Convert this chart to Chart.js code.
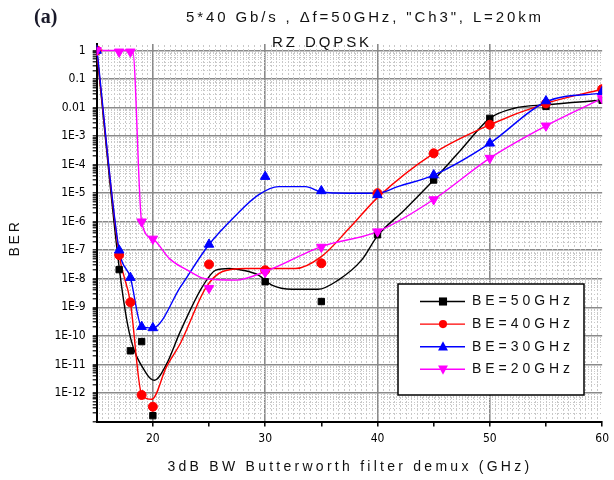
<!DOCTYPE html>
<html><head><meta charset="utf-8">
<script src="https://cdn.jsdelivr.net/npm/chart.js"></script>
<style>html,body{margin:0;padding:0;background:#fff}canvas{display:block}</style>
</head><body>
<canvas id="c" width="614" height="480"></canvas>
<script>
// ---------- data ----------
const seriesLabels = ['BE=50GHz', 'BE=40GHz', 'BE=30GHz', 'BE=20GHz'];

// measured points (markers)
const be50X = [15, 17, 18, 19, 20, 30, 35, 40, 45, 50, 55, 60];
const be50BER = [1, 2.1e-8, 3e-11, 6.3e-11, 1.6e-13, 7.9e-9, 1.6e-9, 3.5e-7, 2.9e-5, 4.2e-3, 1.1e-2, 1.8e-2];
const be40X = [15, 17, 18, 19, 20, 25, 30, 35, 40, 45, 50, 55, 60];
const be40BER = [1, 6.8e-8, 1.5e-9, 8.5e-13, 3.3e-13, 3.2e-8, 2e-8, 3.5e-8, 1e-5, 2.5e-4, 2.5e-3, 1.4e-2, 4.4e-2];
const be30X = [15, 17, 18, 19, 20, 25, 30, 35, 40, 45, 50, 55, 60];
const be30BER = [1, 1e-7, 1.1e-8, 2.1e-10, 1.9e-10, 1.6e-7, 3.8e-5, 1.2e-5, 8.7e-6, 4.3e-5, 5.6e-4, 1.7e-2, 3.6e-2];
const be20X = [15, 17, 18, 19, 20, 25, 30, 35, 40, 45, 50, 55, 60];
const be20BER = [1, 0.9, 0.9, 1e-6, 2.5e-7, 4.7e-9, 1.7e-8, 1.3e-7, 4.5e-7, 6e-6, 1.7e-4, 2.3e-3, 2.1e-2];

// fitted curves
const fit50X = [15, 17, 17.9, 19.4, 20.15, 21.2, 22.4, 24.4, 25.6, 26.8, 28, 29.4, 30.6, 32.4, 34.7, 36.5, 38.6, 40, 42.4, 45, 47.4, 50, 52.1, 55, 60];
const fit50BER = [1, 2.5e-8, 1.3e-10, 5e-12, 2.8e-12, 1e-11, 1.3e-10, 5.2e-9, 2e-8, 2.3e-8, 2e-8, 1.35e-8, 6e-9, 4.3e-9, 4.3e-9, 9e-9, 4.6e-8, 3.2e-7, 2.6e-6, 2.9e-5, 3.2e-4, 4.2e-3, 9.3e-3, 1.26e-2, 1.8e-2];
const fit40X = [15, 17, 18, 19, 19.9, 21.2, 22.5, 24.7, 26.2, 28.3, 32.7, 35, 37.5, 40, 45, 50, 55, 60];
const fit40BER = [1, 7e-8, 1.5e-9, 9e-13, 6e-13, 8e-12, 6e-11, 4.7e-9, 1.8e-8, 2.3e-8, 2.3e-8, 6e-8, 6e-7, 7e-6, 2.5e-4, 2.5e-3, 1.4e-2, 4.4e-2];
const fit30X = [15, 17, 18, 19, 20, 22.5, 25, 27.4, 29.4, 31.2, 33.6, 35, 37.4, 40, 41.8, 45, 50, 55, 60];
const fit30BER = [1.3, 1e-7, 1.1e-8, 2.1e-10, 1.9e-10, 5.5e-9, 1.6e-7, 1.7e-6, 8.7e-6, 1.7e-5, 1.7e-5, 1.1e-5, 1e-5, 1e-5, 1.7e-5, 4.3e-5, 5.6e-4, 1.6e-2, 3.2e-2];
const fit20X = [15, 17, 18.2, 19, 20, 21.5, 23.3, 24.7, 27.4, 30, 35, 40, 45, 50, 55, 60];
const fit20BER = [1, 1, 1, 1e-6, 2.5e-7, 5e-8, 1.8e-8, 1e-8, 9e-9, 1.8e-8, 1.35e-7, 4.5e-7, 6e-6, 1.7e-4, 2.3e-3, 2.1e-2];

// ticks
const xTickValues = [20, 30, 40, 50, 60];
const xTickLabels = ['20', '30', '40', '50', '60'];
const xGridValues = [20, 30, 40, 50];
const yTickExponents = [0, -1, -2, -3, -4, -5, -6, -7, -8, -9, -10, -11, -12];
const yTickLabels = ['1', '0.1', '0.01', '1E-3', '1E-4', '1E-5', '1E-6', '1E-7', '1E-8', '1E-9', '1E-10', '1E-11', '1E-12'];

const titleText = '5*40 Gb/s , \u0394f=50GHz, "Ch3", L=20km';
const subTitleText = 'RZ DQPSK';
const panelText = '(a)';
const xTitleText = '3dB BW Butterworth filter demux (GHz)';
const yTitleText = 'BER';

// ---------- styles ----------
const colors = ['#000000', '#ff0000', '#0000ff', '#ff00ff'];
const markerStyles = ['rect', 'circle', 'triangle', 'triangle'];
const markerRot = [0, 0, 0, 180];
const markerSize = [4.5, 4.5, 5.5, 5.5];
const tickFont = {family: '"Liberation Sans Narrow","DejaVu Sans Condensed","Liberation Sans",Arial,sans-serif', size: 12};
const majorGridColor = '#8a8a8a';
const noColor = 'rgba(0,0,0,0)';

const toPts = (xs, ys) => xs.map((x, i) => ({x: x, y: ys[i]}));
const markerSets = [[be50X, be50BER], [be40X, be40BER], [be30X, be30BER], [be20X, be20BER]];
const fitSets = [[fit50X, fit50BER], [fit40X, fit40BER], [fit30X, fit30BER], [fit20X, fit20BER]];

const datasets = [];
fitSets.forEach((s, i) => {
  datasets.push({
    type: 'line', label: seriesLabels[i] + ' fit', data: toPts(s[0], s[1]),
    borderColor: colors[i], backgroundColor: colors[i], borderWidth: 1.4, pointRadius: 0, fill: false,
    cubicInterpolationMode: 'monotone', order: 10 - i
  });
});
markerSets.forEach((s, i) => {
  datasets.push({
    type: 'line', label: seriesLabels[i], data: toPts(s[0], s[1]),
    showLine: false, fill: false, pointStyle: markerStyles[i], rotation: markerRot[i],
    pointRadius: markerSize[i], backgroundColor: colors[i], borderColor: colors[i],
    borderWidth: 1, order: 5 - i
  });
});

function isDecade(v) { const e = Math.log10(v); return Math.abs(e - Math.round(e)) < 1e-6; }

function spacedText(ctx, text, cx, cy, targetW, font, color) {
  ctx.save();
  ctx.font = font; ctx.fillStyle = color;
  ctx.letterSpacing = '0px';
  const w = ctx.measureText(text).width;
  const n = [...text].length;
  const sp = Math.max(0, (targetW - w) / n);
  ctx.letterSpacing = sp.toFixed(2) + 'px';
  ctx.textAlign = 'left'; ctx.textBaseline = 'middle';
  ctx.fillText(text, cx - targetW / 2, cy);
  ctx.restore();
}

function drawMarker(ctx, style, rot, r, x, y, color) {
  ctx.save();
  ctx.fillStyle = color; ctx.strokeStyle = color;
  ctx.translate(x, y); ctx.rotate(rot * Math.PI / 180);
  ctx.beginPath();
  if (style === 'rect') { ctx.rect(-r, -r, 2 * r, 2 * r); }
  else if (style === 'circle') { ctx.arc(0, 0, r, 0, Math.PI * 2); }
  else { ctx.moveTo(0, -r * 1.1); ctx.lineTo(r, r * 0.75); ctx.lineTo(-r, r * 0.75); ctx.closePath(); }
  ctx.fill();
  ctx.restore();
}

const decoPlugin = {
  id: 'deco',
  beforeDatasetsDraw(chart) {
    // light dotted minor texture behind the data
    const ctx = chart.ctx, a = chart.chartArea, xs = chart.scales.x, ys = chart.scales.y;
    ctx.save();
    ctx.beginPath(); ctx.rect(a.left + 1, a.top, a.right - a.left - 1, a.bottom - a.top - 1); ctx.clip();
    ctx.fillStyle = '#c8c8c8';
    for (let e = -13; e <= 0; e++) {
      for (let m = 2; m <= 9; m++) {
        const v = m * Math.pow(10, e);
        if (v > ys.max) continue;
        const py = Math.round(ys.getPixelForValue(v));
        for (let px = Math.ceil(a.left) + 2; px < a.right; px += 3) ctx.fillRect(px, py, 1, 1);
      }
    }
    for (let k = 31; k < 120; k++) {
      if (k % 20 === 0) continue;
      const px = Math.round(xs.getPixelForValue(k / 2));
      for (let py = Math.ceil(a.top) + 1; py < a.bottom; py += 4) ctx.fillRect(px, py, 1, 2);
    }
    ctx.restore();
  },
  afterDraw(chart) {
    const ctx = chart.ctx;
    spacedText(ctx, titleText, 365, 18, 358, '15px "Liberation Sans", Arial, sans-serif', '#111');
    spacedText(ctx, subTitleText, 322, 43, 100, '15px "Liberation Sans", Arial, sans-serif', '#111');
    ctx.save();
    ctx.font = 'bold 20px "Liberation Serif", "Times New Roman", serif';
    ctx.fillStyle = '#1a1a2a'; ctx.textAlign = 'left'; ctx.textBaseline = 'middle';
    ctx.fillText(panelText, 34, 18);
    ctx.restore();
    spacedText(ctx, xTitleText, 350, 467, 365, '14px "Liberation Sans", Arial, sans-serif', '#111');
    ctx.save();
    ctx.translate(15, 238); ctx.rotate(-Math.PI / 2);
    spacedText(ctx, yTitleText, 0, 0, 37, '14px "Liberation Sans", Arial, sans-serif', '#111');
    ctx.restore();
    // legend box
    const lx = 398, ly = 284, lw = 186, lh = 111;
    ctx.save();
    ctx.fillStyle = '#fff'; ctx.fillRect(lx, ly, lw, lh);
    ctx.strokeStyle = '#000'; ctx.lineWidth = 1.5; ctx.strokeRect(lx, ly, lw, lh);
    for (let i = 0; i < 4; i++) {
      const ry = 301.5 + i * 22.6;
      ctx.strokeStyle = colors[i]; ctx.lineWidth = 1.4;
      ctx.beginPath(); ctx.moveTo(420, ry); ctx.lineTo(465, ry); ctx.stroke();
      drawMarker(ctx, markerStyles[i], markerRot[i], markerSize[i] * 0.9, 443, ry, colors[i]);
      spacedText(ctx, seriesLabels[i], 472 + 51, ry, 102, '14px "Liberation Sans", Arial, sans-serif', '#111');
    }
    ctx.restore();
  }
};

new Chart(document.getElementById('c'), {
  type: 'line',
  data: {datasets: datasets},
  options: {
    responsive: false, animation: false,
    layout: {padding: {top: 44, right: 8, left: 0, bottom: 0}},
    plugins: {legend: {display: false}, tooltip: {enabled: false}, title: {display: false}},
    scales: {
      x: {
        type: 'linear', min: 15, max: 60,
        afterBuildTicks: (s) => { const t = []; for (let v = 15; v <= 60; v += 5) t.push({value: v}); s.ticks = t; },
        afterFit: (s) => { s.height = 58.5; },
        ticks: {
          autoSkip: false, maxRotation: 0, padding: 5, color: '#000', font: tickFont,
          callback: (v) => { const k = xTickValues.indexOf(v); return k >= 0 ? xTickLabels[k] : ''; }
        },
        grid: {
          color: (c) => (c.tick && xGridValues.indexOf(c.tick.value) >= 0) ? majorGridColor : noColor,
          lineWidth: 1.6, tickLength: 5, tickWidth: 1.5,
          tickColor: (c) => (c.tick && c.tick.value === 15) ? noColor : '#000'
        },
        border: {display: true, color: '#000', width: 2}
      },
      y: {
        type: 'logarithmic', min: 1e-13, max: 1.69,
        afterBuildTicks: (s) => {
          const t = [];
          for (let e = -13; e <= 0; e++) {
            for (let m = 1; m <= 9; m++) {
              const v = m * Math.pow(10, e);
              if (v <= 1.69) t.push({value: v});
            }
          }
          s.ticks = t;
        },
        afterFit: (s) => { s.width = 96.7; },
        ticks: {
          autoSkip: false, padding: 7, color: '#000', font: tickFont,
          callback: (v) => {
            if (!isDecade(v)) return '';
            const k = yTickExponents.indexOf(Math.round(Math.log10(v)));
            return k >= 0 ? yTickLabels[k] : '';
          }
        },
        grid: {
          color: (c) => (c.tick && isDecade(c.tick.value) && c.tick.value > 1.5e-13) ? majorGridColor : noColor,
          lineWidth: 1.6, tickLength: 4, tickWidth: 1.2, tickColor: '#000'
        },
        border: {display: true, color: '#000', width: 2}
      }
    }
  },
  plugins: [decoPlugin]
});
</script>
</body></html>
